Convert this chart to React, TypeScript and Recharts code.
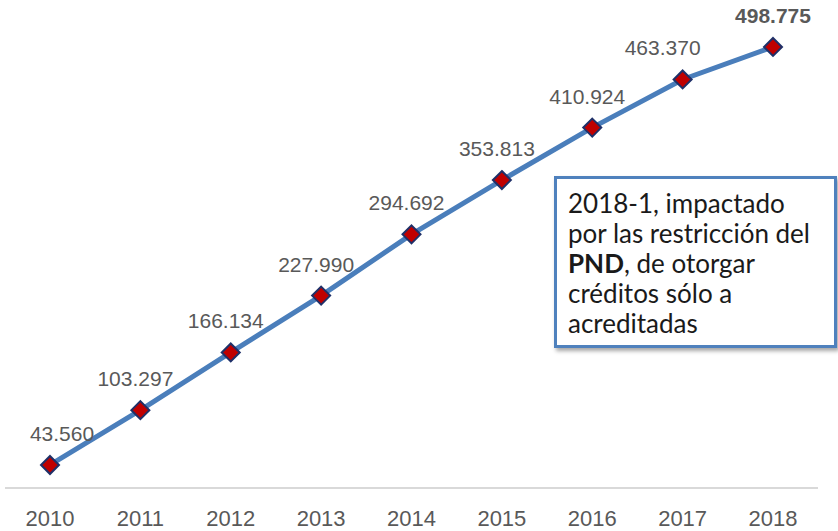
import { LineChart, Line, XAxis, YAxis } from 'recharts'

const years = ['2010', '2011', '2012', '2013', '2014', '2015', '2016', '2017', '2018']
const totals = [43560, 103297, 166134, 227990, 294692, 353813, 410924, 463370, 498775]
const totalLabels = ['43.560', '103.297', '166.134', '227.990', '294.692', '353.813', '410.924', '463.370', '498.775']

const chartData = years.map((year, i) => ({ year, total: totals[i], label: totalLabels[i] }))

// diamond marker, red with a navy outline
const Diamond = (props: any) => {
  const { cx, cy } = props
  if (cx == null || cy == null) return null
  const r = 9
  return (
    <polygon
      points={`${cx},${cy - r} ${cx + r},${cy} ${cx},${cy + r} ${cx - r},${cy}`}
      fill="#C00000"
      stroke="#1F3068"
      strokeWidth={2}
    />
  )
}

const ValueLabel = (props: any) => {
  const { x, y, index } = props
  const last = index === chartData.length - 1
  // first label sits a bit right of its point, the 2017 one a bit left
  const dx = index === 0 ? 12 : index === chartData.length - 2 ? -20 : last ? 0 : -5
  return (
    <text
      x={x + dx}
      y={y - 24}
      textAnchor="middle"
      fontSize={21}
      fontWeight={last ? 'bold' : 'normal'}
      fill="#595959"
      fontFamily="'Liberation Sans', Arial, sans-serif"
    >
      {chartData[index].label}
    </text>
  )
}

export default function App() {
  return (
    <div style={{ position: 'absolute', left: 0, top: 0, width: 838, height: 531, background: '#fff' }}>
      <LineChart width={838} height={531} data={chartData} margin={{ top: 10, right: 20, left: 5, bottom: 13 }}>
        <XAxis
          dataKey="year"
          padding={{ left: 45, right: 45 }}
          axisLine={{ stroke: '#D9D9D9', strokeWidth: 2 }}
          tickLine={false}
          tickMargin={16}
          tick={{ fontSize: 22, fill: '#595959', fontFamily: "'Liberation Sans', Arial, sans-serif" }}
        />
        <YAxis hide domain={[18500, 539000]} />
        <Line
          type="linear"
          dataKey="total"
          stroke="#4A7EBB"
          strokeWidth={5}
          dot={<Diamond />}
          activeDot={false}
          label={<ValueLabel />}
          isAnimationActive={false}
        />
      </LineChart>
      <div
        style={{
          position: 'absolute',
          left: 554,
          top: 176,
          width: 283,
          height: 172,
          boxSizing: 'border-box',
          border: '3px solid #4F81BD',
          boxShadow: '2px 3px 4px rgba(0,0,0,0.35)',
          background: '#fff',
          padding: '9px 0 0 11px',
          fontFamily: "Lato, 'DejaVu Sans', sans-serif",
          fontSize: 26,
          lineHeight: '30px',
          color: '#1a1a1a',
        }}
      >
        2018-1, impactado
        <br />
        por las restricción del
        <br />
        <b>PND</b>, de otorgar
        <br />
        créditos sólo a
        <br />
        acreditadas
      </div>
    </div>
  )
}
